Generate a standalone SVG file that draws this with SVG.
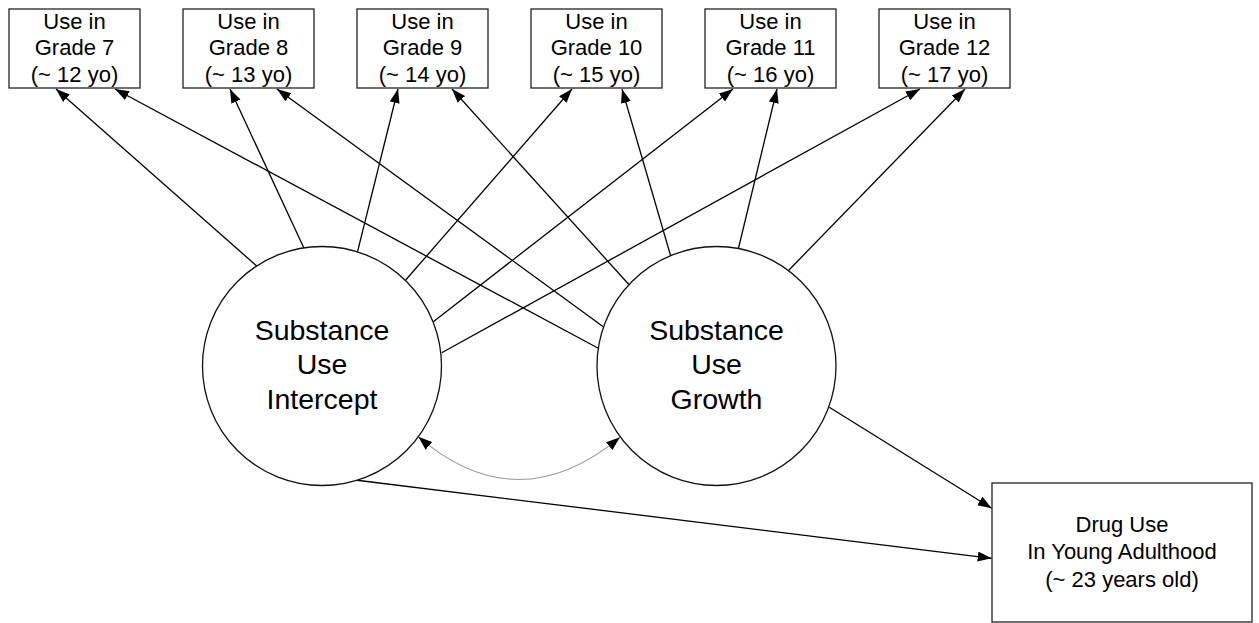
<svg xmlns="http://www.w3.org/2000/svg" width="1259" height="623" viewBox="0 0 1259 623">
<style>
  .box { fill: #ffffff; stroke: #222222; stroke-width: 1.3; }
  .lat { fill: #ffffff; stroke: #111111; stroke-width: 1.3; }
  .t { font-family: "Liberation Sans", Arial, sans-serif; fill: #000000; text-anchor: middle; }
  .bt { font-size: 22px; }
  .ct { font-size: 28.5px; }
  .edge { stroke: #000000; stroke-width: 1.3; fill: none; marker-end: url(#ah); }
  .cov { stroke: #999999; stroke-width: 1.1; fill: none; marker-start: url(#ah2); marker-end: url(#ah); }
</style>
<defs>
  <marker id="ah" markerUnits="userSpaceOnUse" markerWidth="15" markerHeight="11" refX="14" refY="5" orient="auto" viewBox="0 0 15 11">
    <path d="M0,0 L14,5 L0,10 z" fill="#000000"/>
  </marker>
  <marker id="ah2" markerUnits="userSpaceOnUse" markerWidth="15" markerHeight="11" refX="14" refY="5" orient="auto-start-reverse" viewBox="0 0 15 11">
    <path d="M0,0 L14,5 L0,10 z" fill="#000000"/>
  </marker>
</defs>

<g id="connectors">
  <!-- Intercept to grades -->
  <line class="edge" x1="256.7" y1="266" x2="56" y2="89"/>
  <line class="edge" x1="304" y1="248.3" x2="230" y2="89"/>
  <line class="edge" x1="357.3" y1="252.7" x2="398" y2="89"/>
  <line class="edge" x1="405.7" y1="280" x2="572" y2="89"/>
  <line class="edge" x1="433.3" y1="321.7" x2="733" y2="89"/>
  <line class="edge" x1="441.7" y1="352.7" x2="920" y2="89"/>
  <!-- Growth to grades -->
  <line class="edge" x1="598.3" y1="348.3" x2="115" y2="89"/>
  <line class="edge" x1="603.3" y1="326.7" x2="277" y2="89"/>
  <line class="edge" x1="629.3" y1="285" x2="452" y2="89"/>
  <line class="edge" x1="670.7" y1="256" x2="622" y2="89"/>
  <line class="edge" x1="738.3" y1="249" x2="777" y2="89"/>
  <line class="edge" x1="788.3" y1="270.7" x2="965" y2="89"/>
  <!-- To outcome -->
  <line class="edge" x1="829.3" y1="407.3" x2="991.7" y2="508.3"/>
  <line class="edge" x1="355" y1="480" x2="991.7" y2="558.3"/>
  <!-- Covariance -->
  <path class="cov" d="M418.3,436.7 Q517,522 620,437.3"/>
</g>

<g id="grade7">
  <rect class="box" x="9" y="9" width="131" height="79"/>
  <text class="t bt" x="74.5" y="28.5">Use in</text>
  <text class="t bt" x="74.5" y="55">Grade 7</text>
  <text class="t bt" x="74.5" y="81.5">(~ 12 yo)</text>
</g>
<g id="grade8">
  <rect class="box" x="183" y="9" width="131" height="79"/>
  <text class="t bt" x="248.5" y="28.5">Use in</text>
  <text class="t bt" x="248.5" y="55">Grade 8</text>
  <text class="t bt" x="248.5" y="81.5">(~ 13 yo)</text>
</g>
<g id="grade9">
  <rect class="box" x="357" y="9" width="131" height="79"/>
  <text class="t bt" x="422.5" y="28.5">Use in</text>
  <text class="t bt" x="422.5" y="55">Grade 9</text>
  <text class="t bt" x="422.5" y="81.5">(~ 14 yo)</text>
</g>
<g id="grade10">
  <rect class="box" x="531" y="9" width="131" height="79"/>
  <text class="t bt" x="596.5" y="28.5">Use in</text>
  <text class="t bt" x="596.5" y="55">Grade 10</text>
  <text class="t bt" x="596.5" y="81.5">(~ 15 yo)</text>
</g>
<g id="grade11">
  <rect class="box" x="705" y="9" width="131" height="79"/>
  <text class="t bt" x="770.5" y="28.5">Use in</text>
  <text class="t bt" x="770.5" y="55">Grade 11</text>
  <text class="t bt" x="770.5" y="81.5">(~ 16 yo)</text>
</g>
<g id="grade12">
  <rect class="box" x="879" y="9" width="131" height="79"/>
  <text class="t bt" x="944.5" y="28.5">Use in</text>
  <text class="t bt" x="944.5" y="55">Grade 12</text>
  <text class="t bt" x="944.5" y="81.5">(~ 17 yo)</text>
</g>

<g id="intercept">
  <circle class="lat" cx="322" cy="366" r="119.5"/>
  <text class="t ct" x="322" y="339.5">Substance</text>
  <text class="t ct" x="322" y="374">Use</text>
  <text class="t ct" x="322" y="408.5">Intercept</text>
</g>
<g id="growth">
  <circle class="lat" cx="716.5" cy="366" r="119.5"/>
  <text class="t ct" x="716.5" y="339.5">Substance</text>
  <text class="t ct" x="716.5" y="374">Use</text>
  <text class="t ct" x="716.5" y="408.5">Growth</text>
</g>

<g id="drug_use">
  <rect class="box" x="992" y="483" width="260" height="139"/>
  <text class="t bt" x="1122" y="531.7">Drug Use</text>
  <text class="t bt" x="1122" y="559">In Young Adulthood</text>
  <text class="t bt" x="1122" y="586.7">(~ 23 years old)</text>
</g>
</svg>
